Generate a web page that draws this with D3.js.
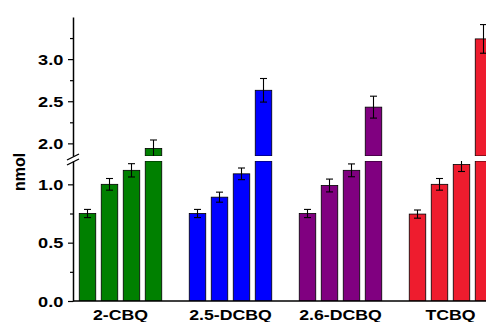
<!DOCTYPE html>
<html>
<head>
<meta charset="utf-8">
<script src="https://cdn.jsdelivr.net/npm/d3@7"></script>
<style>
  html, body { margin: 0; padding: 0; background: #fff; }
  svg { display: block; }
  text { font-family: "Liberation Sans", Arial, sans-serif; font-weight: bold; fill: #000; }
</style>
</head>
<body>
<svg id="chart" width="486" height="322"></svg>
<script>
// Compounds along the x axis and their bar colours
const categories = ["2-CBQ", "2.5-DCBQ", "2.6-DCBQ", "TCBQ"];
const colors = ["#008000", "#0000ff", "#800080", "#ee1c2e"];

// Amount (nmol) for the four bars of each compound, and their error (±)
const cbq2     = [0.75, 1.00, 1.12, 1.94];
const cbq2Err  = [0.035, 0.05, 0.057, 0.10];
const dcbq25    = [0.75, 0.89, 1.09, 2.63];
const dcbq25Err = [0.035, 0.043, 0.05, 0.14];
const dcbq26    = [0.75, 0.99, 1.12, 2.43];
const dcbq26Err = [0.035, 0.055, 0.055, 0.13];
const tcbq     = [0.745, 1.00, 1.17, 3.24];
const tcbqErr  = [0.035, 0.05, 0.06, 0.17];

// Broken y axis: lower and upper segments
const lowerDomain = [0, 1.2];
const upperDomain = [1.85, 3.5];
const lowerMajor = [0, 0.5, 1.0];
const lowerMinor = [0.25, 0.75];
const upperMajor = [2.0, 2.5, 3.0];
const upperMinor = [2.25, 2.75, 3.25];
const yTitle = "nmol";

const groups = [
  { name: categories[0], values: cbq2,   errs: cbq2Err,   color: colors[0] },
  { name: categories[1], values: dcbq25, errs: dcbq25Err, color: colors[1] },
  { name: categories[2], values: dcbq26, errs: dcbq26Err, color: colors[2] },
  { name: categories[3], values: tcbq,   errs: tcbqErr,   color: colors[3] }
];

const svg = d3.select("#chart");
const W = 486;
const axisX = 73;

const yLow = d3.scaleLinear().domain(lowerDomain).range([301, 161]);
const yUp  = d3.scaleLinear().domain(upperDomain).range([156, 17]);

const x = d3.scaleBand().domain(categories).range([65.5, 505.5]).padding(0);
const xi = d3.scaleBand().domain(d3.range(4)).range([-44, 44])
  .paddingInner(0.25).paddingOuter(0.125);

// clip regions for each axis segment
const defs = svg.append("defs");
defs.append("clipPath").attr("id", "clipLow").append("rect")
  .attr("x", axisX).attr("y", yLow.range()[1]).attr("width", W)
  .attr("height", yLow.range()[0] - yLow.range()[1]);
defs.append("clipPath").attr("id", "clipUp").append("rect")
  .attr("x", axisX).attr("y", yUp.range()[1] - 10).attr("width", W)
  .attr("height", yUp.range()[0] - yUp.range()[1] + 10);

const gLow = svg.append("g").attr("clip-path", "url(#clipLow)");
const gUp = svg.append("g").attr("clip-path", "url(#clipUp)");

const bars = [];
groups.forEach(g => g.values.forEach((v, i) => bars.push({
  cat: g.name, i, v, e: g.errs[i], color: g.color
})));

const bx = d => x(d.cat) + x.bandwidth() / 2 + xi(d.i);
const bw = xi.bandwidth();

// lower segment of each bar
gLow.selectAll("rect.bar").data(bars).join("rect")
  .attr("class", "bar")
  .attr("x", bx)
  .attr("width", bw)
  .attr("y", d => yLow(Math.min(d.v, lowerDomain[1])))
  .attr("height", d => yLow(0) - yLow(Math.min(d.v, lowerDomain[1])))
  .attr("fill", d => d.color)
  .attr("stroke", "#000").attr("stroke-width", 0.8);

// upper segment for bars that pass the break
const tall = bars.filter(d => d.v > upperDomain[0]);
gUp.selectAll("rect.bar").data(tall).join("rect")
  .attr("class", "bar")
  .attr("x", bx)
  .attr("width", bw)
  .attr("y", d => yUp(d.v))
  .attr("height", d => yUp(upperDomain[0]) - yUp(d.v))
  .attr("fill", d => d.color)
  .attr("stroke", "#000").attr("stroke-width", 0.8);

// error bars, drawn in whichever segment holds the bar top
function errorBars(g, data, y) {
  const cap = 3.5;
  const eg = g.selectAll("g.err").data(data).join("g").attr("class", "err")
    .attr("stroke", "#000").attr("stroke-width", 1.1);
  eg.append("line")
    .attr("x1", d => bx(d) + bw / 2).attr("x2", d => bx(d) + bw / 2)
    .attr("y1", d => y(d.v - d.e)).attr("y2", d => y(d.v + d.e));
  eg.append("line")
    .attr("x1", d => bx(d) + bw / 2 - cap).attr("x2", d => bx(d) + bw / 2 + cap)
    .attr("y1", d => y(d.v + d.e)).attr("y2", d => y(d.v + d.e));
  eg.append("line")
    .attr("x1", d => bx(d) + bw / 2 - cap).attr("x2", d => bx(d) + bw / 2 + cap)
    .attr("y1", d => y(d.v - d.e)).attr("y2", d => y(d.v - d.e));
}
errorBars(gLow, bars.filter(d => d.v <= upperDomain[0]), yLow);
errorBars(gUp, tall, yUp);

// y axes
function drawAxis(scale, major, minor) {
  const ga = svg.append("g").attr("transform", `translate(${axisX},0)`);
  ga.call(d3.axisLeft(scale).tickValues(major).tickSize(5).tickSizeOuter(0)
    .tickFormat(d3.format(".1f")));
  ga.append("g").call(d3.axisLeft(scale).tickValues(minor).tickSize(3)
    .tickSizeOuter(0).tickFormat(""))
    .select(".domain").remove();
  ga.selectAll("path.domain").attr("stroke", "#000").attr("stroke-width", 1.5);
  ga.selectAll(".tick line").attr("stroke", "#000").attr("stroke-width", 1.2);
  ga.selectAll(".tick text")
    .attr("x", null).attr("dy", null)
    .attr("font-family", null).attr("font-size", null)
    .style("font-size", "14px")
    .attr("dominant-baseline", "central")
    .attr("transform", "translate(-9.7,0) scale(1.3,1)");
  ga.attr("font-family", null).attr("font-size", null);
}
drawAxis(yLow, lowerMajor, lowerMinor);
drawAxis(yUp, upperMajor, upperMinor);

// break marks on the y axis
const brk = svg.append("g").attr("stroke", "#000").attr("stroke-width", 1.3);
brk.append("line").attr("x1", axisX - 6).attr("y1", 160).attr("x2", axisX + 6).attr("y2", 154);
brk.append("line").attr("x1", axisX - 6).attr("y1", 165).attr("x2", axisX + 6).attr("y2", 159);

// x axis
svg.append("line")
  .attr("x1", axisX).attr("x2", W)
  .attr("y1", yLow(0)).attr("y2", yLow(0))
  .attr("stroke", "#000").attr("stroke-width", 1.5);

const gx = svg.append("g").attr("transform", `translate(0,${yLow(0)})`)
  .call(d3.axisBottom(x).tickSize(0).tickPadding(0));
gx.select(".domain").remove();
gx.attr("font-family", null).attr("font-size", null);
gx.selectAll(".tick text")
  .attr("y", null).attr("dy", null)
  .style("font-size", "15px")
  .attr("text-anchor", "middle")
  .attr("transform", "translate(0,19) scale(1.18,1)");

// y title
svg.append("text")
  .attr("transform", "translate(25,172) rotate(-90)")
  .attr("text-anchor", "middle")
  .style("font-size", "16px")
  .text(yTitle);
</script>
</body>
</html>
